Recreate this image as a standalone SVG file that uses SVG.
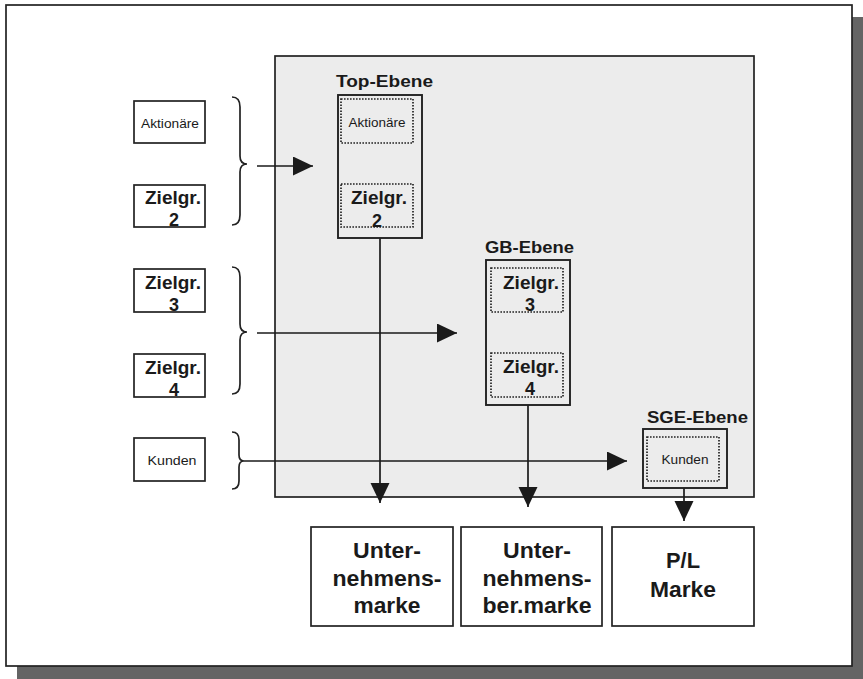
<svg xmlns="http://www.w3.org/2000/svg" width="863" height="679" viewBox="0 0 863 679">
<style>
.box{fill:#fff;stroke:#222;stroke-width:1.7}
.grp{fill:none;stroke:#222;stroke-width:1.9}
.dot{fill:none;stroke:#222;stroke-width:1.7;stroke-dasharray:1.6 1.4}
.t{font-family:"Liberation Sans",Arial,sans-serif;fill:#1a1a1a;text-anchor:middle}
.b{font-weight:bold}
.lbl{font-family:"Liberation Sans",Arial,sans-serif;font-weight:bold;fill:#1a1a1a;font-size:17px}
.con{fill:none;stroke:#1a1a1a;stroke-width:1.7}
.brace{fill:none;stroke:#222;stroke-width:1.7}
</style>
<defs>
<marker id="ah" markerUnits="userSpaceOnUse" markerWidth="21" markerHeight="20" refX="20" refY="9.5" orient="auto">
<path d="M0,0 L20,9.5 L0,19 z" fill="#1a1a1a"/>
</marker>
</defs>
<g id="frame">
<rect x="17" y="17" width="846" height="662" fill="#646464"/>
<rect x="6" y="5" width="846" height="661" fill="#fff" stroke="#222" stroke-width="1.7"/>
<rect x="275" y="56" width="479" height="441" fill="#ececec" stroke="#222" stroke-width="1.7"/>
</g>
<g id="braces">
<path class="brace" d="M232,97 Q240,97 240,107 L240,156 Q240,164 247,164 Q240,164 240,172 L240,215 Q240,225 232,225"/>
<path class="brace" d="M232,267 Q240,267 240,277 L240,324 Q240,332 247,332 Q240,332 240,340 L240,384 Q240,394 232,394"/>
<path class="brace" d="M232,432 Q239,432 239,440 L239,455 Q239,461 244,461 Q239,461 239,467 L239,481 Q239,489 232,489"/>
</g>
<g id="connectors">
<line class="con" x1="257" y1="166" x2="313" y2="166" marker-end="url(#ah)"/>
<line class="con" x1="257" y1="333" x2="457" y2="333" marker-end="url(#ah)"/>
<line class="con" x1="244" y1="461" x2="627" y2="461" marker-end="url(#ah)"/>
<line class="con" x1="380" y1="238" x2="380" y2="503" marker-end="url(#ah)"/>
<line class="con" x1="528" y1="405" x2="528" y2="507" marker-end="url(#ah)"/>
<line class="con" x1="684" y1="488" x2="684" y2="521" marker-end="url(#ah)"/>
</g>
<g id="src-aktionaere">
<rect class="box" x="134" y="101" width="71" height="42"/>
<text class="t" x="170" y="128" font-size="13.5" textLength="58" lengthAdjust="spacingAndGlyphs">Aktionäre</text>
</g>
<g id="src-zielgr2">
<rect class="box" x="134" y="185" width="71" height="42"/>
<text class="t b" x="173" y="204" font-size="18.5" textLength="56" lengthAdjust="spacingAndGlyphs">Zielgr.</text>
<text class="t b" x="174" y="226" font-size="18">2</text>
</g>
<g id="src-zielgr3">
<rect class="box" x="134" y="269" width="71" height="43"/>
<text class="t b" x="173" y="289" font-size="18.5" textLength="56" lengthAdjust="spacingAndGlyphs">Zielgr.</text>
<text class="t b" x="174" y="311" font-size="18">3</text>
</g>
<g id="src-zielgr4">
<rect class="box" x="134" y="354" width="71" height="43"/>
<text class="t b" x="173" y="374" font-size="18.5" textLength="56" lengthAdjust="spacingAndGlyphs">Zielgr.</text>
<text class="t b" x="174" y="396" font-size="18">4</text>
</g>
<g id="src-kunden">
<rect class="box" x="134" y="438" width="71" height="43"/>
<text class="t" x="172" y="465" font-size="13.5" textLength="49" lengthAdjust="spacingAndGlyphs">Kunden</text>
</g>
<g id="top-ebene">
<text class="lbl" x="336" y="87" textLength="97" lengthAdjust="spacingAndGlyphs">Top-Ebene</text>
<rect class="grp" x="338" y="95" width="84" height="143"/>
<rect class="dot" x="341" y="99" width="72" height="44"/>
<text class="t" x="377" y="127" font-size="13.5" textLength="57" lengthAdjust="spacingAndGlyphs">Aktionäre</text>
<rect class="dot" x="341" y="184" width="72" height="43"/>
<text class="t b" x="379" y="204" font-size="18.5" textLength="56" lengthAdjust="spacingAndGlyphs">Zielgr.</text>
<text class="t b" x="377" y="227" font-size="18">2</text>
</g>
<g id="gb-ebene">
<text class="lbl" x="485" y="253" textLength="89" lengthAdjust="spacingAndGlyphs">GB-Ebene</text>
<rect class="grp" x="486" y="260" width="84" height="145"/>
<rect class="dot" x="491" y="268" width="72" height="44"/>
<text class="t b" x="531" y="289" font-size="18.5" textLength="56" lengthAdjust="spacingAndGlyphs">Zielgr.</text>
<text class="t b" x="530" y="311" font-size="18">3</text>
<rect class="dot" x="491" y="353" width="72" height="44"/>
<text class="t b" x="531" y="373" font-size="18.5" textLength="56" lengthAdjust="spacingAndGlyphs">Zielgr.</text>
<text class="t b" x="530" y="395" font-size="18">4</text>
</g>
<g id="sge-ebene">
<text class="lbl" x="647" y="423" textLength="101" lengthAdjust="spacingAndGlyphs">SGE-Ebene</text>
<rect class="grp" x="643" y="429" width="84" height="59"/>
<rect class="dot" x="647" y="437" width="72" height="44"/>
<text class="t" x="685" y="464" font-size="13.5" textLength="47" lengthAdjust="spacingAndGlyphs">Kunden</text>
</g>
<g id="unternehmensmarke">
<rect class="box" x="311" y="527" width="142" height="99"/>
<text class="t b" x="387" y="558" font-size="22" textLength="68" lengthAdjust="spacingAndGlyphs">Unter-</text>
<text class="t b" x="387" y="586" font-size="22" textLength="109" lengthAdjust="spacingAndGlyphs">nehmens-</text>
<text class="t b" x="387" y="613" font-size="22" textLength="67" lengthAdjust="spacingAndGlyphs">marke</text>
</g>
<g id="unternehmensbermarke">
<rect class="box" x="461" y="527" width="141" height="99"/>
<text class="t b" x="537" y="558" font-size="22" textLength="68" lengthAdjust="spacingAndGlyphs">Unter-</text>
<text class="t b" x="537" y="586" font-size="22" textLength="109" lengthAdjust="spacingAndGlyphs">nehmens-</text>
<text class="t b" x="537" y="613" font-size="22" textLength="109" lengthAdjust="spacingAndGlyphs">ber.marke</text>
</g>
<g id="pl-marke">
<rect class="box" x="612" y="527" width="142" height="99"/>
<text class="t b" x="683" y="568" font-size="22" textLength="34" lengthAdjust="spacingAndGlyphs">P/L</text>
<text class="t b" x="683" y="597" font-size="22" textLength="66" lengthAdjust="spacingAndGlyphs">Marke</text>
</g>
</svg>
